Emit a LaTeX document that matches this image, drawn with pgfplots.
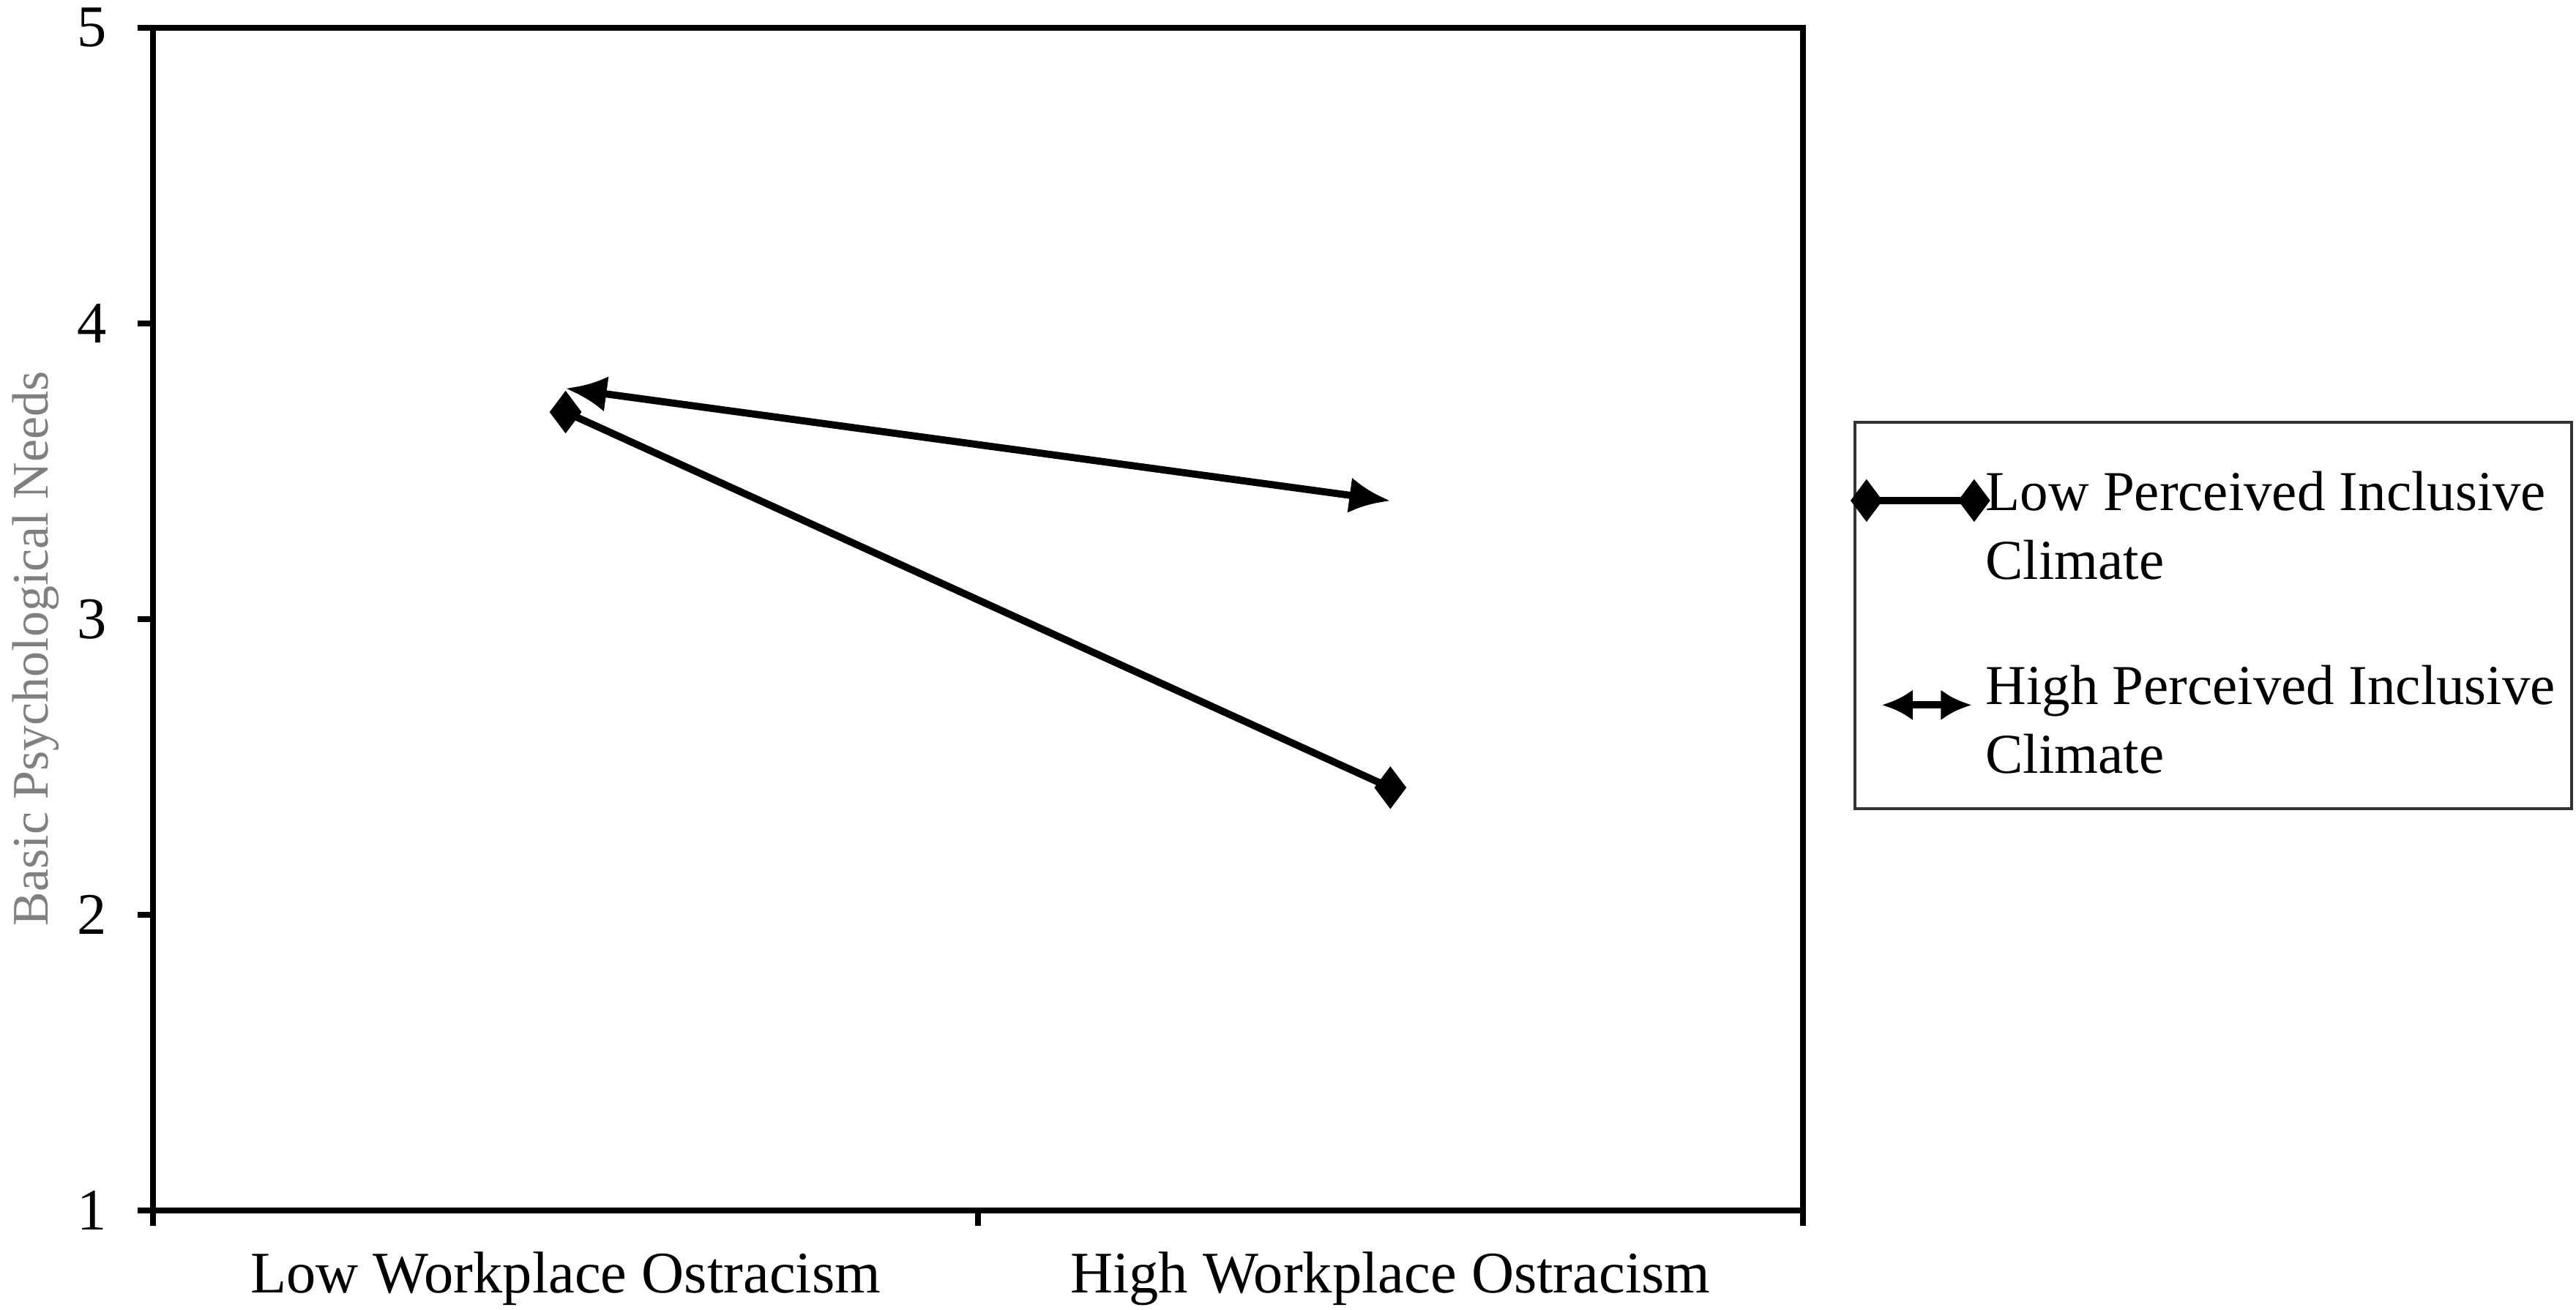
\documentclass[border=0pt]{standalone}
\usepackage{fontspec}
\setmainfont{Liberation Serif}
\usepackage{pgfplots}
\pgfplotsset{compat=1.18}
\usetikzlibrary{arrows.meta}

\begin{document}
\begin{tikzpicture}
% fix the page to the reference proportions (7 px per pt)
\path[use as bounding box] (-29.9pt,-19.4pt) rectangle (472.8pt,236.3pt);
\begin{axis}[
    scale only axis,
    width=321.9pt, height=230.9pt,
    xmin=0, xmax=2,
    ymin=1, ymax=5,
    axis line style={line width=1.1pt},
    tick style={line width=1.1pt, black},
    tick align=outside,
    xtick pos=bottom, ytick pos=left,
    xtick={0.5,1.5},
    xticklabels={Low Workplace Ostracism, High Workplace Ostracism},
    major x tick style={draw=none},
    minor xtick={0,1,2},
    minor tick length=3pt,
    ytick={1,2,3,4,5},
    major tick length=3pt,
    /pgf/number format/assume math mode=true,
    ticklabel style={font=\fontsize{11.5}{13}\selectfont},
    xticklabel style={yshift=-1.5pt},
    yticklabel style={xshift=-2.5pt},
    ylabel={Basic Psychological Needs},
    every axis y label/.style={at={(axis description cs:-0.0711,0.475)},
        rotate=90, anchor=center, font=\fontsize{10}{12}\selectfont, text=black!50},
    legend style={at={(1,1)}, anchor=north west, xshift=9.9pt, yshift=-76.7pt,
        draw=black!80, line width=0.6pt, inner xsep=0pt, inner ysep=3.4pt,
        font=\fontsize{11}{13.5}\selectfont, row sep=11.2pt,
        cells={align=left, anchor=base west, inner xsep=0pt}},
    legend cell align=left,
]

% Low perceived inclusive climate
\addplot[black, line width=1.4pt, mark=diamond*, mark size=3pt,
    legend image code/.code={
        \draw[line width=1.4pt, mark=diamond*, mark size=3pt] plot coordinates {(2pt,3.5pt) (23pt,3.5pt)};
    }] coordinates {(0.5,3.70) (1.5,2.43)};
\addlegendentry[inner xsep=0pt]{\rule{0pt}{11.8pt}Low Perceived Inclusive\hspace*{5pt}\\Climate}

% High perceived inclusive climate
\addplot[black, line width=1.4pt, {Latex[length=8pt,width=7pt]}-{Latex[length=8pt,width=7pt]},
    legend image code/.code={
        \draw[line width=1.4pt, {Latex[length=6pt,width=6pt]}-{Latex[length=6pt,width=6pt]}] (5pt,3.5pt) -- (22.5pt,3.5pt);
    }] coordinates {(0.5,3.78) (1.5,3.40)};
\addlegendentry[inner xsep=0pt]{High Perceived Inclusive\\Climate}

\end{axis}
\end{tikzpicture}
\end{document}
